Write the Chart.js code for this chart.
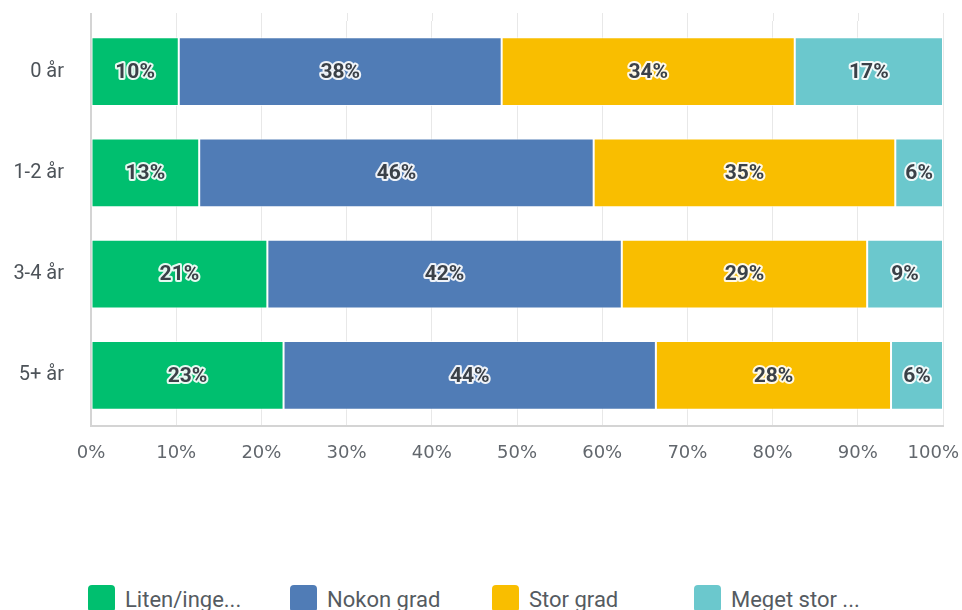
<!DOCTYPE html>
<html>
<head>
<meta charset="utf-8">
<script src="https://cdn.jsdelivr.net/npm/chart.js@4/dist/chart.umd.min.js"></script>
<style>
  html, body { margin: 0; padding: 0; background: #fff; }
  #wrap { position: relative; width: 962px; height: 610px; overflow: hidden; }
  #chartBox { position: absolute; left: 0; top: 0; width: 962px; height: 480px; }
  #legend { position: absolute; left: 88px; top: 585px; display: flex; }
  .item { width: 202px; display: flex; align-items: flex-start; font: 22px Roboto, sans-serif; color: #555b61; }
  .swatch { width: 27px; height: 27px; border-radius: 4px; margin-right: 10px; box-sizing: border-box; }
  .txt { line-height: 27px; margin-top: 1px; }
</style>
</head>
<body>
<div id="wrap">
  <div id="chartBox"><canvas id="chart"></canvas></div>
  <div id="legend"></div>
</div>
<script>
const groups = ["0 år", "1-2 år", "3-4 år", "5+ år"]
const seriesNames = ["Liten/inge...", "Nokon grad", "Stor grad", "Meget stor ..."]
const liten = [10.3, 12.7, 20.7, 22.6]
const nokon = [37.9, 46.3, 41.6, 43.7]
const stor = [34.4, 35.4, 28.8, 27.6]
const meget = [17.4, 5.6, 8.9, 6.1]
const xTicks = [0, 10, 20, 30, 40, 50, 60, 70, 80, 90, 100]
const colors = ["#00bf6f", "#507cb6", "#f9be00", "#6bc8cd"]

// percent labels in the middle of each segment, dark text with a white halo
const segmentLabels = {
    id: "segmentLabels",
    afterDatasetsDraw(chart) {
        const ctx = chart.ctx
        ctx.save()
        ctx.font = "bold 21px Roboto, sans-serif"
        ctx.textAlign = "center"
        ctx.textBaseline = "middle"
        ctx.lineJoin = "round"
        chart.data.datasets.forEach((ds, i) => {
            chart.getDatasetMeta(i).data.forEach((bar, j) => {
                const p = bar.getProps(["x", "y", "base"], true)
                const text = Math.round(ds.data[j]) + "%"
                const cx = (p.x + p.base) / 2
                ctx.lineWidth = 4
                ctx.strokeStyle = "rgba(255,255,255,0.9)"
                ctx.strokeText(text, cx, p.y + 1)
                ctx.fillStyle = "#3b4148"
                ctx.fillText(text, cx, p.y + 1)
            })
        })
        ctx.restore()
    }
}

// keep the last x tick label inside the canvas by right-aligning it,
// and run the vertical grid lines a little above the plot area
const axisTweaks = {
    id: "axisTweaks",
    beforeDraw(chart) {
        const items = chart.scales.x.getLabelItems()
        const last = items[items.length - 1]
        if (last) {
            last.options.textAlign = "right"
            last.options.translation[0] = chart.width - 3
        }
    },
    beforeDatasetsDraw(chart) {
        const { ctx, chartArea, scales } = chart
        ctx.save()
        xTicks.forEach(v => {
            const x = Math.round(scales.x.getPixelForValue(v)) + 0.5
            ctx.strokeStyle = v === 0 ? "#d4d4d4" : "#e8e8e8"
            ctx.lineWidth = v === 0 ? 2 : 1
            ctx.beginPath()
            ctx.moveTo(v === 0 ? x - 0.5 : x, 13)
            ctx.lineTo(v === 0 ? x - 0.5 : x, chartArea.top)
            ctx.stroke()
        })
        ctx.restore()
    }
}

const series = [liten, nokon, stor, meget]

window.addEventListener("load", () => {
    const ctx = document.getElementById("chart")
    new Chart(ctx, {
        type: "bar",
        data: {
            labels: groups,
            datasets: series.map((vals, i) => ({
                label: seriesNames[i],
                data: vals,
                backgroundColor: colors[i],
                borderColor: "rgba(255,255,255,0.7)",
                borderWidth: 1,
                borderSkipped: false,
                barPercentage: 0.85,
                categoryPercentage: 0.8
            }))
        },
        plugins: [segmentLabels, axisTweaks],
        options: {
            indexAxis: "y",
            responsive: true,
            maintainAspectRatio: false,
            animation: false,
            layout: { padding: { top: 21, right: 19, left: 0, bottom: 0 } },
            plugins: {
                legend: { display: false },
                tooltip: { enabled: false }
            },
            scales: {
                x: {
                    stacked: true,
                    min: 0,
                    max: 100,
                    afterBuildTicks: s => { s.ticks = xTicks.map(v => ({ value: v })) },
                    afterFit: s => { s.height = 54; s.paddingRight = 0 },
                    grid: { color: "#e8e8e8", lineWidth: 1, drawTicks: false },
                    border: { color: "#d4d4d4", width: 2 },
                    ticks: {
                        padding: 17,
                        color: "#62676d",
                        font: { family: "DejaVu Sans", size: 18 },
                        callback: v => v + "%"
                    }
                },
                y: {
                    stacked: true,
                    afterFit: s => { s.width = 91 },
                    grid: { display: true, drawOnChartArea: false, drawTicks: true, tickLength: 20, tickColor: "rgba(0,0,0,0)" },
                    border: { color: "#d4d4d4", width: 2 },
                    ticks: {
                        padding: 7,
                        color: "#4d5359",
                        font: { family: "Roboto", size: 20 }
                    }
                }
            }
        }
    })

    // legend row under the chart
    const legend = document.getElementById("legend")
    seriesNames.forEach((name, i) => {
        const item = document.createElement("div")
        item.className = "item"
        const sw = document.createElement("div")
        sw.className = "swatch"
        sw.style.background = colors[i]
        const t = document.createElement("span")
        t.className = "txt"
        t.textContent = name
        item.appendChild(sw)
        item.appendChild(t)
        legend.appendChild(item)
    })
})
</script>
</body>
</html>
